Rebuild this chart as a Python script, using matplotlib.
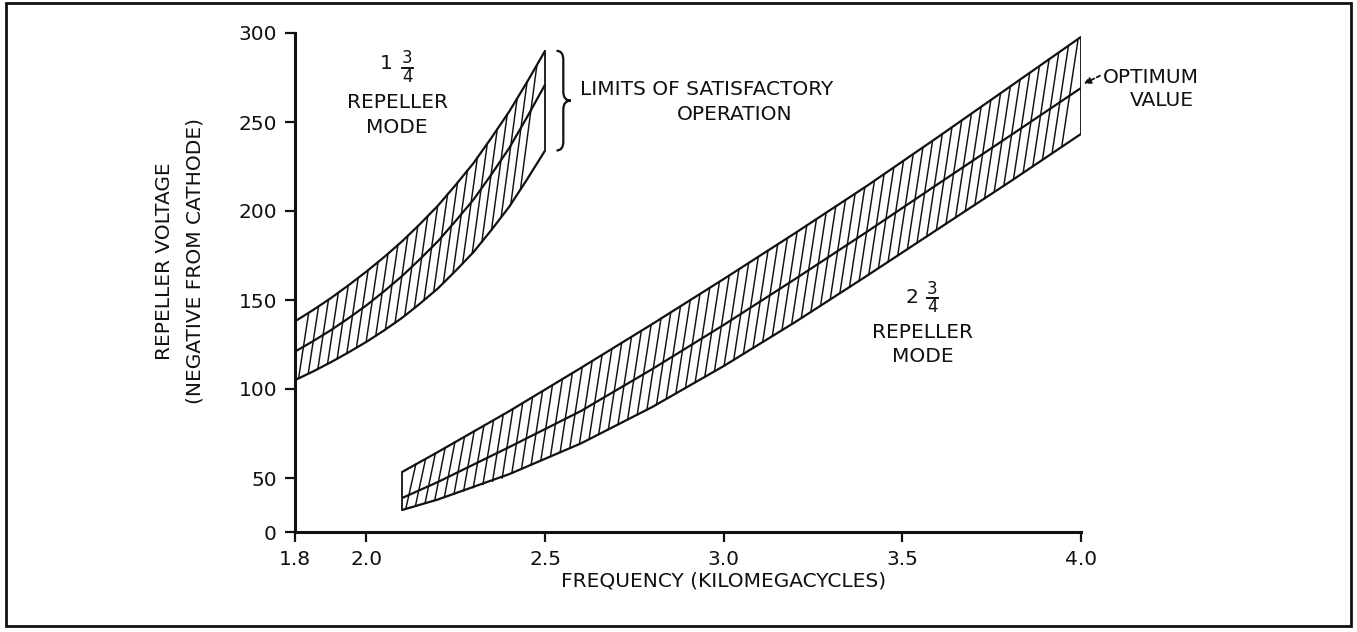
import numpy as np
import matplotlib
matplotlib.use("Agg")
import matplotlib.pyplot as plt
from matplotlib.patches import PathPatch, Rectangle
from matplotlib.path import Path

# ---------------- data ----------------
# 1 3/4 repeller mode (frequency in kMc, voltage in V)
mode1_freq = [1.8, 1.85, 1.9, 1.95, 2.0, 2.05, 2.1, 2.15, 2.2, 2.25, 2.3, 2.35, 2.4, 2.45, 2.5]
mode1_upper = [138, 144.3, 151, 158.3, 166, 174.2, 183, 192.7, 203, 214.7, 227, 241.2, 256, 272.6, 290]
mode1_opt = [121, 126.8, 133, 139.8, 147, 155, 163.5, 173, 183, 194.5, 206.5, 220.6, 235.5, 252.9, 271]
mode1_lower = [105, 109.8, 115, 120.6, 126.5, 133, 140, 148, 156.5, 166.5, 177, 189.4, 202.5, 217.9, 234]

# 2 3/4 repeller mode
mode2_freq = [2.1, 2.2, 2.4, 2.6, 2.8, 3.0, 3.2, 3.4, 3.6, 3.8, 4.0]
mode2_upper = [53.4, 64.6, 87.6, 111.8, 136.5, 161.8, 187.6, 214.0, 241.6, 269.7, 297.8]
mode2_opt = [31.5, 46.3, 67.4, 87.6, 111.2, 136.0, 161.8, 188.2, 215.2, 242.1, 269.1]
mode2_lower = [20.4, 30.1, 52.2, 69.4, 89.9, 112.9, 137.6, 163.5, 189.9, 216.3, 243.3]

x_ticks = [1.8, 2.0, 2.5, 3.0, 3.5, 4.0]
x_ticklabels = ["1.8", "2.0", "2.5", "3.0", "3.5", "4.0"]
y_ticks = [0, 50, 100, 150, 200, 250, 300]
y_ticklabels = ["0", "50", "100", "150", "200", "250", "300"]

# ---------------- figure ----------------
plt.rcParams['font.family'] = ['DejaVu Sans']
W, H = 1357, 632
fig = plt.figure(figsize=(W / 100, H / 100), dpi=100)
ax = fig.add_axes([295 / W, 1 - 532 / H, (1081 - 295) / W, (532 - 33) / H])

# compressed scale below 50 (as in the original drawing)
C = 54 / 89.0
def fwd(v):
    v = np.asarray(v, dtype=float)
    return np.where(v >= 50, v, 50 - (50 - v) * C)
def inv(u):
    u = np.asarray(u, dtype=float)
    return np.where(u >= 50, u, 50 - (50 - u) / C)
ax.set_yscale('function', functions=(fwd, inv))
ax.set_xlim(1.8, 4.0)
ax.set_ylim(0, 300)

BLACK = "#111111"
FS = 14.5

def draw_band(fx, up, mid, lo):
    fx = np.asarray(fx, float)
    up = np.asarray(up, float)
    lo = np.asarray(lo, float)
    for arr in (up, mid, lo):
        ax.plot(fx, arr, color=BLACK, lw=1.6, solid_capstyle='butt',
                solid_joinstyle='round')
    # end edges
    ax.plot([fx[0], fx[0]], [lo[0], up[0]], color=BLACK, lw=1.3)
    ax.plot([fx[-1], fx[-1]], [lo[-1], up[-1]], color=BLACK, lw=1.3)
    # slanted hatching
    step = 0.027
    for x0 in np.arange(fx[0] + 0.01, fx[-1], step):
        yl = np.interp(x0, fx, lo)
        yu0 = np.interp(x0, fx, up)
        s = 0.00085 * (yu0 - yl)
        x1 = x0 + s
        if x1 > fx[-1]:
            continue
        yu = np.interp(x1, fx, up)
        ax.plot([x0, x1], [yl, yu], color=BLACK, lw=1.05)

draw_band(mode1_freq, mode1_upper, mode1_opt, mode1_lower)
draw_band(mode2_freq, mode2_upper, mode2_opt, mode2_lower)

# axes styling
for sp in ['top', 'right']:
    ax.spines[sp].set_visible(False)
for sp in ['left', 'bottom']:
    ax.spines[sp].set_linewidth(2.2)
    ax.spines[sp].set_color(BLACK)
ax.set_xticks(x_ticks)
ax.set_xticklabels(x_ticklabels)
ax.set_yticks(y_ticks)
ax.set_yticklabels(y_ticklabels)
ax.yaxis.set_minor_locator(matplotlib.ticker.NullLocator())
ax.xaxis.set_minor_locator(matplotlib.ticker.NullLocator())
ax.tick_params(axis='both', direction='out', length=7, width=1.6,
               labelsize=14.5, colors=BLACK, pad=6)
ax.set_facecolor('white')

# axis labels
ax.text(-0.147, 172, "REPELLER VOLTAGE\n(NEGATIVE FROM CATHODE)",
        transform=ax.get_yaxis_transform(), rotation=90, ha='center',
        va='center', fontsize=FS, linespacing=1.75, color=BLACK)
ax.text(3.0, -0.098, "FREQUENCY (KILOMEGACYCLES)",
        transform=ax.get_xaxis_transform(), ha='center', va='center',
        fontsize=FS, color=BLACK)

# mode labels with stacked fractions
def mixed(xc, y_whole, y_num, y_bar, y_den, whole):
    ax.text(xc - 0.030, y_whole, whole, ha='center', va='center',
            fontsize=FS, color=BLACK)
    ax.text(xc + 0.028, y_num, "3", ha='center', va='center',
            fontsize=12, color=BLACK)
    ax.plot([xc + 0.014, xc + 0.043], [y_bar, y_bar], color=BLACK, lw=1.4)
    ax.text(xc + 0.028, y_den, "4", ha='center', va='center',
            fontsize=12, color=BLACK)

mixed(2.086, 283, 286, 280.5, 275.5, "1")
ax.text(2.086, 261, "REPELLER", ha='center', va='center', fontsize=FS, color=BLACK)
ax.text(2.086, 247, "MODE", ha='center', va='center', fontsize=FS, color=BLACK)

mixed(3.556, 151.5, 156, 151, 146, "2")
ax.text(3.556, 132, "REPELLER", ha='center', va='center', fontsize=FS, color=BLACK)
ax.text(3.556, 118, "MODE", ha='center', va='center', fontsize=FS, color=BLACK)

ax.text(2.598, 268, "LIMITS OF SATISFACTORY", ha='left', va='center',
        fontsize=FS, color=BLACK)
ax.text(3.03, 254, "OPERATION", ha='center', va='center', fontsize=FS, color=BLACK)

ax.text(4.06, 275, "OPTIMUM", ha='left', va='center', fontsize=FS,
        color=BLACK, clip_on=False)
ax.text(4.225, 262, "VALUE", ha='center', va='center', fontsize=FS,
        color=BLACK, clip_on=False)
ax.annotate("", xy=(4.008, 271.5), xytext=(4.053, 276), annotation_clip=False,
            arrowprops=dict(arrowstyle='-|>', color=BLACK, lw=1.3,
                            linestyle=(0, (2, 1.5)), mutation_scale=10,
                            shrinkA=0, shrinkB=0))

# curly brace
x0, xm, xt = 2.532, 2.551, 2.572
yt, yb = 290, 234
ymid = 262
r = 5
verts = [(x0, yt), (xm, yt), (xm, yt - r), (xm, ymid + r), (xm, ymid), (xt, ymid),
         (xm, ymid), (xm, ymid - r), (xm, yb + r), (xm, yb), (x0, yb)]
codes = [Path.MOVETO, Path.CURVE3, Path.CURVE3, Path.LINETO, Path.CURVE3, Path.CURVE3,
         Path.CURVE3, Path.CURVE3, Path.LINETO, Path.CURVE3, Path.CURVE3]
ax.add_patch(PathPatch(Path(verts, codes), fill=False, lw=1.6, color=BLACK,
                       clip_on=False))

# outer frame
fig.patches.append(Rectangle((6 / W, 6 / H), (W - 12) / W, (H - 9) / H,
                             transform=fig.transFigure, fill=False, lw=2,
                             edgecolor=BLACK))

fig.savefig("out.png", dpi=100, facecolor='white')
